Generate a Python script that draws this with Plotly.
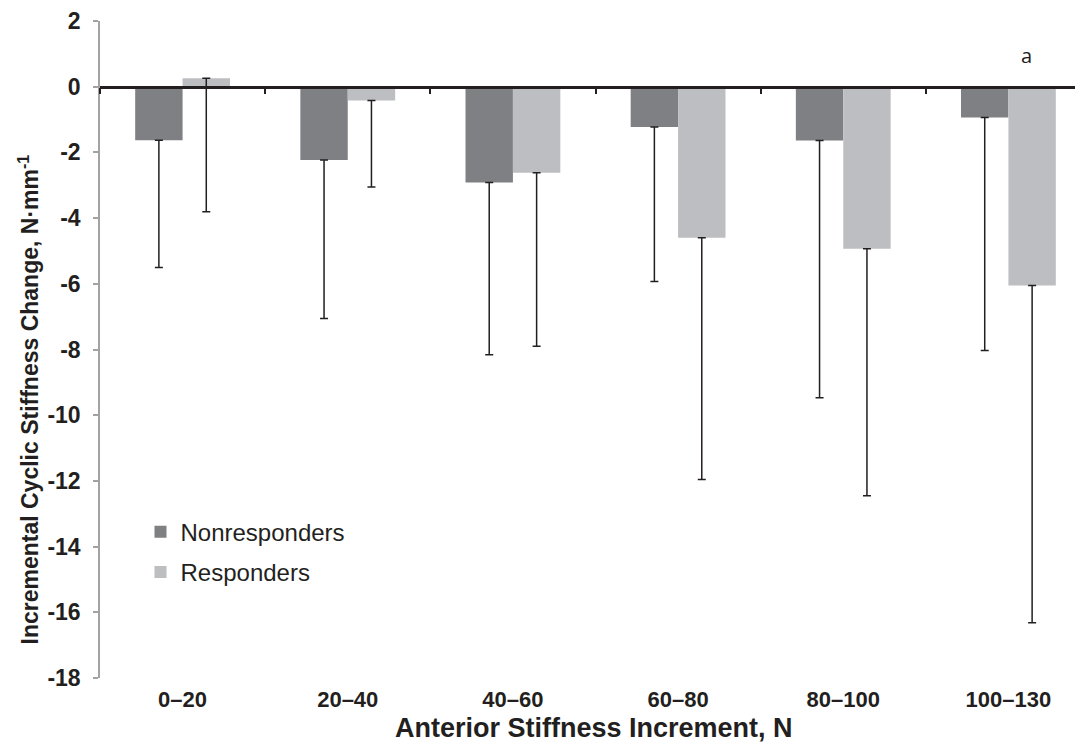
import plotly.graph_objects as go

categories = ["0–20", "20–40", "40–60", "60–80", "80–100", "100–130"]
nonresponders = [-1.63, -2.23, -2.92, -1.23, -1.64, -0.94]
nonresponders_err = [3.87, 4.83, 5.24, 4.70, 7.83, 7.09]
responders = [0.26, -0.42, -2.62, -4.60, -4.93, -6.05]
responders_err = [4.07, 2.63, 5.28, 7.36, 7.52, 10.27]
y_ticks = [2, 0, -2, -4, -6, -8, -10, -12, -14, -16, -18]

FONT = "Liberation Sans, Arial, sans-serif"
C_NON = "#7f8084"
C_RES = "#bdbec1"
ERR = "#231f20"

fig = go.Figure()
fig.add_trace(go.Bar(
    x=categories, y=nonresponders, name="Nonresponders",
    marker=dict(color=C_NON, line=dict(width=0)),
    error_y=dict(type="data", symmetric=False, array=[0]*len(categories),
                 arrayminus=nonresponders_err, color=ERR, thickness=1.5, width=4),
    legendgroup="a",
))
fig.add_trace(go.Bar(
    x=categories, y=responders, name="Responders",
    marker=dict(color=C_RES, line=dict(width=0)),
    error_y=dict(type="data", symmetric=False, array=[0]*len(categories),
                 arrayminus=responders_err, color=ERR, thickness=1.5, width=4),
    legendgroup="b",
))
# helper trace (draws nothing) so the zero-line axis has its categories
fig.add_trace(go.Scatter(x=categories, y=[0]*len(categories), mode="none",
                         xaxis="x2", showlegend=False, hoverinfo="skip"))

xr = [-0.5, 5.5]
PW = 991.0
PH = 657.0
fig.update_layout(
    width=1083, height=747,
    margin=dict(l=92, r=0, t=13, b=77),
    paper_bgcolor="white", plot_bgcolor="white",
    barmode="group", bargap=0.426, bargroupgap=0,
    font=dict(family=FONT, color="#231f20"),
    showlegend=True,
    legend=dict(x=40.5/PW, y=0.27 - 9/PH, xanchor="left", yanchor="top",
                font=dict(size=24, family=FONT, color="#231f20"),
                bgcolor="rgba(0,0,0,0)", tracegroupgap=6,
                traceorder="grouped"),
    xaxis=dict(type="category", categoryorder="array", categoryarray=categories,
               range=xr, showline=False, showgrid=False, zeroline=False,
               ticks="", ticklabelstandoff=6, automargin=False,
               tickfont=dict(size=22, family=FONT, weight="bold", color="#231f20")),
    xaxis2=dict(type="category", categoryorder="array", categoryarray=categories,
                range=xr, overlaying="x", anchor="free", position=0.9,
                side="bottom", showline=True, linecolor="#231f20", linewidth=2.5,
                ticks="outside", tickson="boundaries", ticklen=6, tickwidth=1.5,
                tickcolor="#231f20", showticklabels=False, showgrid=False,
                zeroline=False, automargin=False),
    yaxis=dict(range=[-18, 2], tickvals=y_ticks, ticktext=[str(v) for v in y_ticks],
               showline=True, linecolor="#a3a3a3", linewidth=1.5,
               ticks="outside", ticklen=5, tickwidth=1.5, tickcolor="#a3a3a3",
               showgrid=False, zeroline=False, ticklabelstandoff=8, automargin=False,
               tickfont=dict(size=23, family=FONT, weight="bold", color="#231f20")),
)

fig.add_annotation(text="Incremental Cyclic Stiffness Change, N·mm<sup>-1</sup>",
                   xref="paper", yref="paper", x=-72/PW, y=0.5 - 50/PH,
                   xanchor="center", yanchor="middle", textangle=-90,
                   showarrow=False,
                   font=dict(size=23, family=FONT, weight="bold", color="#231f20"))
fig.add_annotation(text="Anterior Stiffness Increment, N",
                   xref="paper", yref="paper", x=494/PW, y=-50/PH,
                   xanchor="center", yanchor="middle", showarrow=False,
                   font=dict(size=27, family=FONT, weight="bold", color="#231f20"))
fig.add_annotation(text="a", x=categories[-1], y=0.95, yref="y",
                   xref="x", xshift=18, showarrow=False,
                   font=dict(size=20, family="Open Sans, sans-serif", color="#231f20"))

fig.write_html("out.html")
